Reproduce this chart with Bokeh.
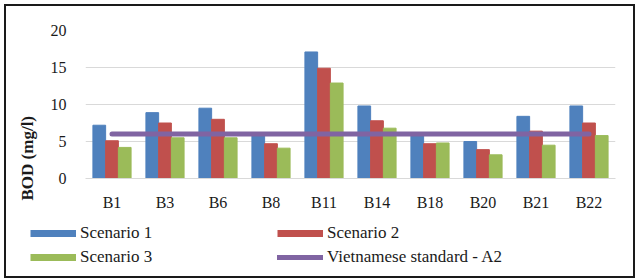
from bokeh.plotting import figure
from bokeh.layouts import column, row
from bokeh.models import Range1d, FactorRange, Legend, LegendItem, Title, ColumnDataSource
from bokeh.transform import dodge
from bokeh.embed import file_html
from bokeh.resources import INLINE

categories = ["B1", "B3", "B6", "B8", "B11", "B14", "B18", "B20", "B21", "B22"]
scenario1 = [7.2, 8.9, 9.5, 6.1, 17.1, 9.8, 6.0, 5.0, 8.4, 9.8]
scenario2 = [5.1, 7.5, 8.0, 4.7, 14.9, 7.8, 4.7, 3.9, 6.4, 7.5]
scenario3 = [4.2, 5.5, 5.5, 4.1, 12.9, 6.8, 4.8, 3.2, 4.5, 5.8]
standard_a2 = [6, 6, 6, 6, 6, 6, 6, 6, 6, 6]
y_ticks = [0, 5, 10, 15, 20]
series_names = ["Scenario 1", "Scenario 2", "Scenario 3", "Vietnamese standard - A2"]

BLUE, RED, GREEN, PURPLE = "#4F81BD", "#C0504D", "#9BBB59", "#8064A2"
SERIF = "Liberation Serif"
TEXT = "#1a1a1a"

src = ColumnDataSource(dict(cat=categories, s1=scenario1, s2=scenario2, s3=scenario3, std=standard_a2))

p = figure(width=627, height=210, x_range=FactorRange(*categories, range_padding=0),
           y_range=Range1d(0, 20), output_backend="svg", toolbar_location=None,
           min_border_left=79, min_border_right=18, min_border_top=24, min_border_bottom=38)
p.outline_line_color = None

w = 0.24
p.vbar(x=dodge("cat", -w, range=p.x_range), top="s1", width=w, source=src, color=BLUE)
p.vbar(x=dodge("cat", 0, range=p.x_range), top="s2", width=w, source=src, color=RED)
p.vbar(x=dodge("cat", w, range=p.x_range), top="s3", width=w, source=src, color=GREEN)
p.line(x="cat", y="std", source=src, line_color=PURPLE, line_width=5, line_cap="round")

p.yaxis.ticker = y_ticks
p.yaxis.axis_line_color = None
p.yaxis.major_tick_line_color = None
p.yaxis.major_tick_out = 0
p.yaxis.minor_tick_line_color = None
p.yaxis.minor_tick_out = 0
p.yaxis.major_label_standoff = 19
p.yaxis.major_label_text_font = SERIF
p.yaxis.major_label_text_font_size = "16px"
p.yaxis.major_label_text_color = TEXT

p.xaxis.axis_line_color = "#D9D9D9"
p.xaxis.major_tick_line_color = None
p.xaxis.minor_tick_line_color = None
p.xaxis.major_label_standoff = 9
p.xaxis.major_label_text_font = SERIF
p.xaxis.major_label_text_font_size = "16px"
p.xaxis.major_label_text_color = TEXT

p.xgrid.grid_line_color = None
p.ygrid.grid_line_color = "#D9D9D9"

p.add_layout(Title(text="BOD (mg/l)", align="left", vertical_align="middle", offset=-22,
                   standoff=20, text_font=SERIF, text_font_style="bold",
                   text_font_size="17px", text_color=TEXT), "left")

# legend panel
nan = float("nan")
lf = figure(width=627, height=60, x_range=Range1d(0, 1), y_range=Range1d(0, 1),
            output_backend="svg", toolbar_location=None, min_border=0,
            min_border_left=0, min_border_right=0, min_border_top=0, min_border_bottom=0,
            x_axis_location=None, y_axis_location=None)
lf.outline_line_color = None
lf.grid.grid_line_color = None
l1 = lf.line(x=[nan], y=[nan], line_color=BLUE, line_width=7)
l2 = lf.line(x=[nan], y=[nan], line_color=RED, line_width=7)
l3 = lf.line(x=[nan], y=[nan], line_color=GREEN, line_width=7)
l4 = lf.line(x=[nan], y=[nan], line_color=PURPLE, line_width=5, line_cap="round")
legend = Legend(items=[LegendItem(label=series_names[0], renderers=[l1]),
                       LegendItem(label=series_names[2], renderers=[l3]),
                       LegendItem(label=series_names[1], renderers=[l2]),
                       LegendItem(label=series_names[3], renderers=[l4])],
                ncols=2, location=(24, 9), padding=0, margin=0, spacing=4,
                glyph_width=46, glyph_height=20, label_height=20, label_width=193,
                label_standoff=4, border_line_color=None, background_fill_alpha=0,
                label_text_font=SERIF, label_text_font_size="17px", label_text_color=TEXT)
lf.add_layout(legend, "center")

layout = column(p, row(lf), spacing=0)
layout.styles = {"border": "2px solid #1a1a1a", "margin-left": "4px", "margin-top": "4px"}

open("out.html", "w").write(file_html(layout, INLINE))
